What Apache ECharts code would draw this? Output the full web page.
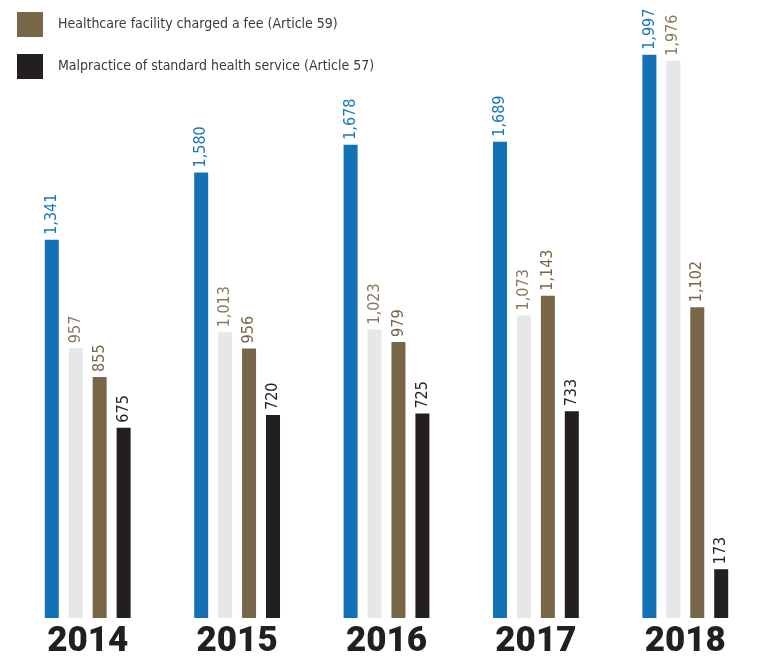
<!DOCTYPE html>
<html>
<head>
<meta charset="utf-8">
<script src="https://cdn.jsdelivr.net/npm/echarts@6/dist/echarts.min.js"></script>
<style>
html, body { margin: 0; padding: 0; background: #fff; }
#main { width: 760px; height: 660px; }
</style>
</head>
<body>
<div id="main"></div>
<script>
// data
var years = ['2014', '2015', '2016', '2017', '2018'];
var totalComplaints = [1341, 1580, 1678, 1689, 1997];
var resolvedComplaints = [957, 1013, 1023, 1073, 1976];
var feeCharged = [855, 956, 979, 1143, 1102];
var malpractice = [675, 720, 725, 733, 173];

var seriesNames = ['Total complaints', 'Complaints resolved',
    'Healthcare facility charged a fee (Article 59)',
    'Malpractice of standard health service (Article 57)'];

var narrowFont = '"DejaVu Sans Condensed", "Liberation Sans Narrow", Roboto, sans-serif';

var myChart = echarts.init(document.getElementById('main'));

function bar(name, data, color, labelColor) {
    return {
        name: name,
        type: 'bar',
        data: data,
        barWidth: 14,
        barGap: '71%',
        itemStyle: {color: color},
        label: {
            show: true,
            position: 'top',
            rotate: 90,
            align: 'left',
            verticalAlign: 'middle',
            distance: 5,
            color: labelColor,
            fontFamily: narrowFont,
            fontSize: 16,
            formatter: function (p) { return p.value.toLocaleString('en-US'); }
        }
    };
}

var option = {
    animation: false,
    legend: {
        data: [seriesNames[2], seriesNames[3]],
        orient: 'vertical',
        left: 12,
        top: 7,
        itemWidth: 26,
        itemHeight: 25,
        itemGap: 17,
        icon: 'rect',
        textStyle: {
            fontFamily: narrowFont,
            fontSize: 14,
            color: '#3a3a3a',
            padding: [0, 0, 0, 10]
        }
    },
    grid: {left: 13, top: 54, bottom: 40, width: 766},
    xAxis: {
        type: 'category',
        data: years,
        axisLine: {show: false},
        axisTick: {show: false},
        axisLabel: {
            margin: 7,
            verticalAlign: 'top',
            fontFamily: 'Roboto',
            fontWeight: 900,
            fontSize: 35,
            color: '#231f20'
        }
    },
    yAxis: {
        type: 'value',
        min: 0,
        max: 2000,
        show: false
    },
    series: [
        bar(seriesNames[0], totalComplaints, '#1272b5', '#1a78b8'),
        bar(seriesNames[1], resolvedComplaints, '#e6e7e8', '#8a7b5e'),
        bar(seriesNames[2], feeCharged, '#776748', '#776748'),
        bar(seriesNames[3], malpractice, '#231f20', '#231f20')
    ]
};

myChart.setOption(option);
</script>
</body>
</html>
